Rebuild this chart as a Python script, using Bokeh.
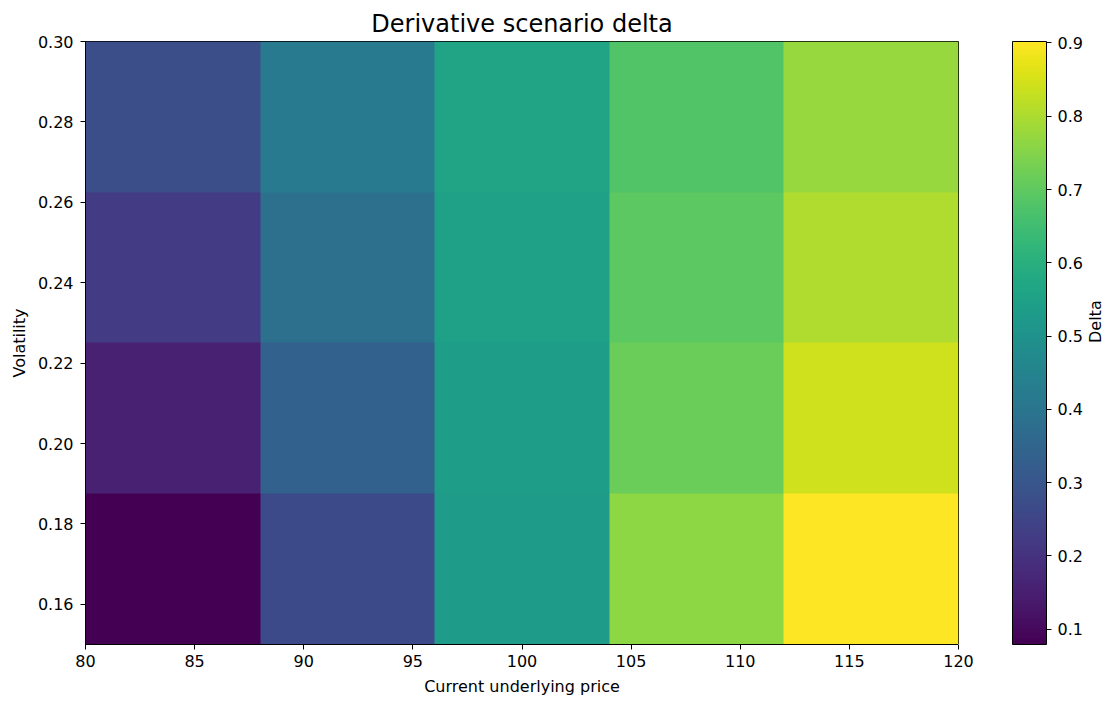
import numpy as np
from math import pi
from bokeh.plotting import figure
from bokeh.models import (LinearColorMapper, ColorBar, FixedTicker, NumeralTickFormatter,
                          Range1d, LinearAxis)
from bokeh.palettes import Viridis256
from bokeh.embed import file_html
from bokeh.resources import INLINE

# scenario grid
prices = [80, 90, 100, 110, 120]
vols = [0.15, 0.20, 0.25, 0.30]

# delta per volatility row (bottom row first), one value per price
delta_v15 = [0.079, 0.265, 0.530, 0.761, 0.902]
delta_v20 = [0.155, 0.335, 0.540, 0.718, 0.844]
delta_v25 = [0.221, 0.383, 0.550, 0.694, 0.804]
delta_v30 = [0.276, 0.420, 0.560, 0.680, 0.776]

x_ticks = [80, 85, 90, 95, 100, 105, 110, 115, 120]
y_ticks = [0.16, 0.18, 0.20, 0.22, 0.24, 0.26, 0.28, 0.30]
cbar_ticks = [0.1, 0.2, 0.3, 0.4, 0.5, 0.6, 0.7, 0.8, 0.9]

grid = np.array([delta_v15, delta_v20, delta_v25, delta_v30])

FONT = "DejaVu Sans"
TICK_SIZE = "16px"

p = figure(frame_width=873, frame_height=603,
           x_range=Range1d(min(prices), max(prices)),
           y_range=Range1d(min(vols), max(vols)),
           output_backend="svg", toolbar_location=None, tools="")
p.min_border_left = 85
p.min_border_top = 41
p.min_border_bottom = 60
p.min_border_right = 154

p.title.text = "Derivative scenario delta"
p.title.align = "center"
p.title.text_font = FONT
p.title.text_font_size = "24px"
p.title.text_font_style = "normal"
p.title.text_color = "black"
p.title.standoff = 8

mapper = LinearColorMapper(palette=Viridis256, low=grid.min(), high=grid.max())
p.image(image=[grid], x=min(prices), y=min(vols),
        dw=max(prices) - min(prices), dh=max(vols) - min(vols),
        color_mapper=mapper)

p.xgrid.grid_line_color = None
p.ygrid.grid_line_color = None
p.outline_line_color = "black"
p.outline_line_width = 1

for ax in (p.xaxis, p.yaxis):
    ax.axis_line_color = "black"
    ax.major_tick_line_color = "black"
    ax.major_tick_out = 5
    ax.major_tick_in = 0
    ax.minor_tick_line_color = None
    ax.major_label_text_font = FONT
    ax.major_label_text_font_size = TICK_SIZE
    ax.major_label_text_color = "black"
    ax.axis_label_text_font = FONT
    ax.axis_label_text_font_size = TICK_SIZE
    ax.axis_label_text_font_style = "normal"
    ax.axis_label_text_color = "black"

p.xaxis.ticker = FixedTicker(ticks=x_ticks)
p.yaxis.ticker = FixedTicker(ticks=y_ticks)
p.yaxis.formatter = NumeralTickFormatter(format="0.00")
p.xaxis.axis_label = "Current underlying price"
p.yaxis.axis_label = "Volatility"
p.xaxis.major_label_standoff = 5
p.yaxis.major_label_standoff = 7
p.xaxis.axis_label_standoff = 7
p.yaxis.axis_label_standoff = 6

# blank axis (one white tick on the bottom edge) to push the colour bar off the frame
gap = LinearAxis(ticker=FixedTicker(ticks=[min(vols)]), major_tick_out=54, major_tick_in=0,
                 minor_tick_out=0, minor_tick_in=0,
                 axis_line_color=None, major_tick_line_color="white",
                 minor_tick_line_color=None, major_label_standoff=0,
                 major_label_overrides={min(vols): ""},
                 major_label_text_font_size="0px")
p.add_layout(gap, "right")

cbar = ColorBar(color_mapper=mapper, width=34, padding=0,
                ticker=FixedTicker(ticks=cbar_ticks),
                formatter=NumeralTickFormatter(format="0.0"),
                major_tick_in=0, major_tick_out=5,
                major_tick_line_color="black",
                minor_tick_line_color=None,
                bar_line_color="black",
                border_line_color=None,
                label_standoff=6,
                major_label_text_font=FONT,
                major_label_text_font_size=TICK_SIZE,
                major_label_text_color="black")
p.add_layout(cbar, "right")

# colour bar caption, reading bottom to top
caption = LinearAxis(ticker=FixedTicker(ticks=[]), axis_label="Delta",
                     axis_label_orientation=pi / 2, axis_label_standoff=10,
                     axis_line_color=None, major_tick_out=0, major_tick_in=0,
                     minor_tick_out=0, minor_tick_in=0,
                     major_tick_line_color=None, minor_tick_line_color=None,
                     axis_label_text_font=FONT, axis_label_text_font_size=TICK_SIZE,
                     axis_label_text_font_style="normal", axis_label_text_color="black")
p.add_layout(caption, "right")

open("out.html", "w").write(file_html(p, INLINE))
